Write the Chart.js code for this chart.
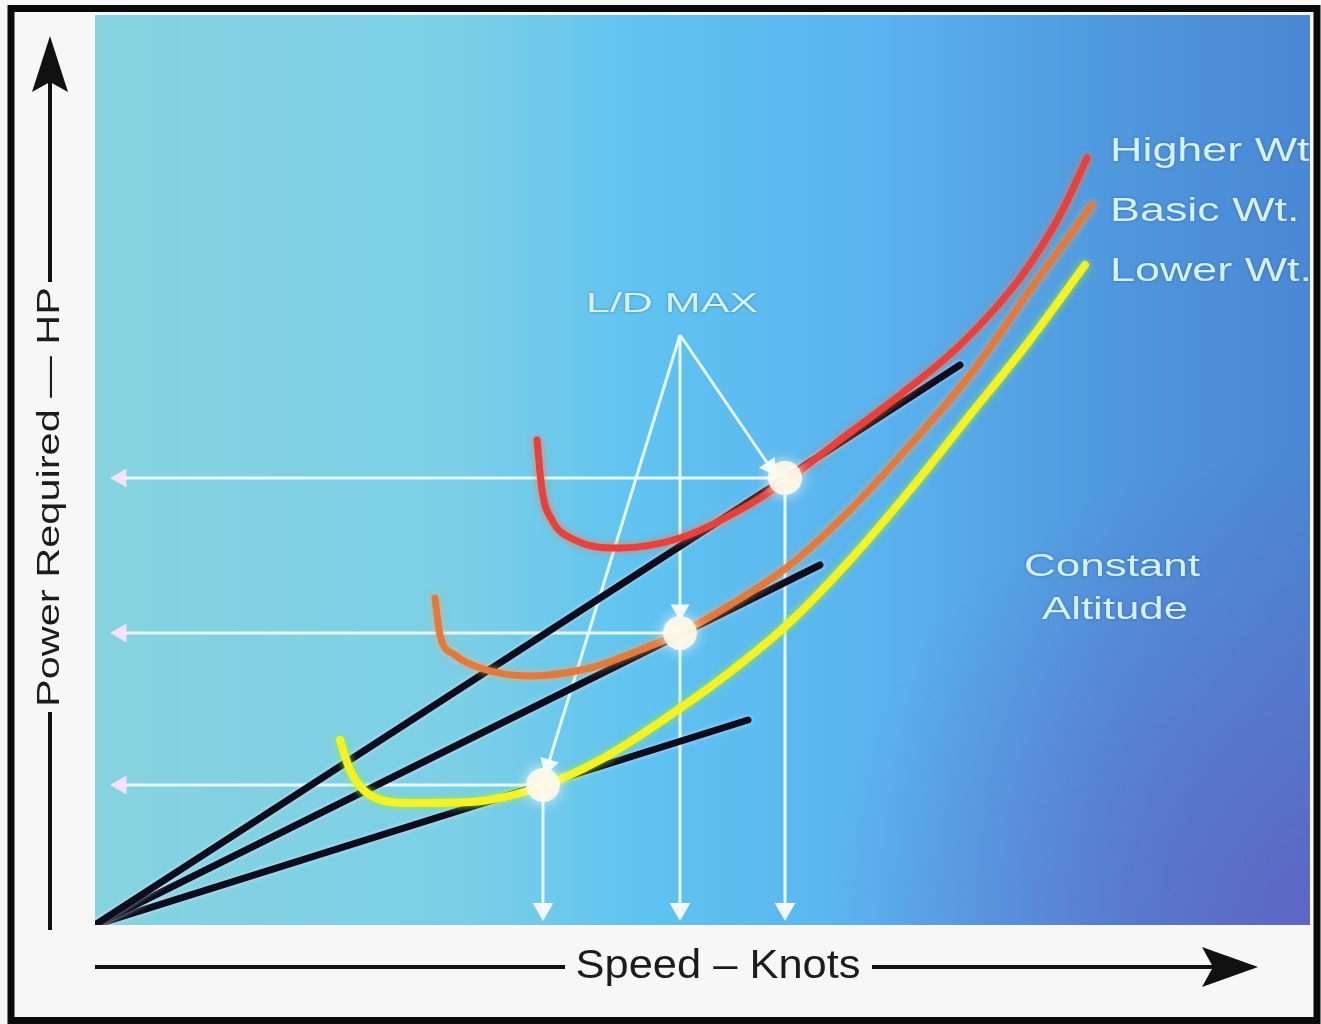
<!DOCTYPE html>
<html>
<head>
<meta charset="utf-8">
<script src="https://cdn.jsdelivr.net/npm/chart.js@4"></script>
<style>
  html, body { margin: 0; padding: 0; background: #f7f7f7; }
  canvas { display: block; }
</style>
</head>
<body>
<canvas id="powerChart" width="1321" height="1024"></canvas>
<script>
// power required curves, speed / power in chart units
const higherWtSpeed = [44.2, 44.7, 45.7, 48, 52.5, 58.5, 64.5, 69.5, 74.5, 80.5, 86.5, 92.5, 96.5, 99.2];
const higherWtPower = [48.5, 43.5, 40.5, 38.5, 37.7, 38.7, 41.5, 44.7, 48.5, 53, 58, 64.7, 71, 76.7];

const basicWtSpeed = [34, 34.5, 36, 38.5, 43.5, 49.5, 54.5, 58.5, 63.5, 69.5, 75.5, 81.5, 87.5, 93.5, 99.7];
const basicWtPower = [32.7, 29, 27, 25.7, 24.9, 25.7, 27.5, 29.2, 32, 36, 41.5, 48, 55, 63.5, 72];

const lowerWtSpeed = [24.5, 25.5, 27.5, 31.5, 37.5, 44.5, 50.5, 56.5, 63.5, 69.5, 75.5, 81.5, 87.5, 93.5, 99];
const lowerWtPower = [18.5, 15.5, 13, 12.2, 12.3, 13.8, 16.5, 20.3, 25.3, 30.3, 36.5, 43.5, 51, 58.5, 66];

// tangent lines from the origin (end points)
const tangentEndSpeed = [86.5, 72.5, 65.3];
const tangentEndPower = [56, 36, 20.5];

// L/D max points (higher, basic, lower)
const ldMaxSpeed = [69, 58.5, 44.8];
const ldMaxPower = [44.7, 29.2, 14.0];

// L/D MAX label pointer apex and pointer ends
const ldApex = { x: 58.5, y: 59 };
const pointerEndSpeed = [67.5, 58.5, 45.3];
const pointerEndPower = [45.8, 31.5, 16];

const curveLabels = ['Higher Wt.', 'Basic Wt.', 'Lower Wt.'];

const toPoints = (xs, ys) => xs.map((x, i) => ({ x, y: ys[i] }));

// rotation (deg) for a triangle pointing from a to b; x and y units have the same pixel size
const arrowAngle = (a, b) => Math.atan2(b.x - a.x, b.y - a.y) * 180 / Math.PI;

const WHITE = 'rgba(236,250,255,0.95)';
const datasets = [];

// L/D max glow points
datasets.push({
  data: toPoints(ldMaxSpeed, ldMaxPower),
  showLine: false,
  pointRadius: 17,
  pointBackgroundColor: 'rgba(255,250,232,0.88)',
  pointBorderWidth: 0,
  glow: 'rgba(255,255,255,0.9)', glowBlur: 14,
  order: 0
});

// coloured power curves
[
  [higherWtSpeed, higherWtPower, '#e8403c', 'rgba(255,120,60,0.8)', 7],
  [basicWtSpeed, basicWtPower, '#e27a3e', 'rgba(255,170,90,0.7)', 7],
  [lowerWtSpeed, lowerWtPower, '#f4f224', 'rgba(150,240,60,0.95)', 8]
].forEach(([xs, ys, color, glow, width]) => {
  datasets.push({
    data: toPoints(xs, ys),
    borderColor: color,
    borderWidth: width,
    cubicInterpolationMode: 'monotone',
    pointRadius: 0,
    borderCapStyle: 'round',
    glow, glowBlur: 7,
    order: 1
  });
});

// black tangent lines
tangentEndSpeed.forEach((x, i) => {
  datasets.push({
    data: [{ x: 0, y: 0 }, { x, y: tangentEndPower[i] }],
    borderColor: '#0d0d1e',
    borderWidth: 7,
    borderCapStyle: 'round',
    pointRadius: 0,
    glow: 'rgba(230,240,255,0.7)', glowBlur: 4,
    order: 2
  });
});

// white horizontal arrows to the power axis
ldMaxSpeed.forEach((x, i) => {
  const y = ldMaxPower[i];
  datasets.push({
    data: [{ x: 2.6, y }, { x, y }],
    borderColor: WHITE,
    borderWidth: 3,
    pointStyle: 'triangle',
    pointRadius: [11, 0],
    pointRotation: [-90, 0],
    pointBackgroundColor: 'rgba(250,225,255,0.95)',
    pointBorderWidth: 0,
    order: 3
  });
});

// white vertical arrows to the speed axis
ldMaxSpeed.forEach((x, i) => {
  datasets.push({
    data: [{ x, y: 1.6 }, { x, y: ldMaxPower[i] }],
    borderColor: WHITE,
    borderWidth: 3,
    pointStyle: 'triangle',
    pointRadius: [12, 0],
    pointRotation: [180, 0],
    pointBackgroundColor: 'rgba(250,250,255,0.95)',
    pointBorderWidth: 0,
    order: 3
  });
});

// pointers from the L/D MAX label
pointerEndSpeed.forEach((x, i) => {
  const end = { x, y: pointerEndPower[i] };
  datasets.push({
    data: [ldApex, end],
    borderColor: WHITE,
    borderWidth: 3,
    pointStyle: 'triangle',
    pointRadius: [0, 11],
    pointRotation: [0, arrowAngle(ldApex, end)],
    pointBackgroundColor: 'rgba(245,252,255,0.95)',
    pointBorderWidth: 0,
    order: 3
  });
});

const glowPlugin = {
  id: 'glow',
  beforeDatasetDraw(chart, args) {
    const ds = chart.data.datasets[args.index];
    chart.ctx.save();
    if (ds.glow) {
      chart.ctx.shadowColor = ds.glow;
      chart.ctx.shadowBlur = ds.glowBlur;
    }
  },
  afterDatasetDraw(chart) {
    chart.ctx.restore();
  }
};

const backgroundPlugin = {
  id: 'background',
  beforeDraw(chart) {
    const { ctx, chartArea: a } = chart;
    ctx.save();
    ctx.fillStyle = '#f7f7f7';
    ctx.fillRect(0, 0, chart.width, chart.height);

    const g = ctx.createLinearGradient(a.left, 0, a.right, 0);
    g.addColorStop(0, '#86d3e0');
    g.addColorStop(0.3, '#7ccfe6');
    g.addColorStop(0.45, '#60c3f0');
    g.addColorStop(0.65, '#5ab2ee');
    g.addColorStop(0.85, '#4f96dc');
    g.addColorStop(1, '#4a88d4');
    ctx.fillStyle = g;
    ctx.fillRect(a.left, a.top, a.right - a.left, a.bottom - a.top);

    const r = ctx.createRadialGradient(a.right, a.bottom, 0, a.right, a.bottom, 480);
    r.addColorStop(0, 'rgba(100,90,190,0.75)');
    r.addColorStop(1, 'rgba(100,90,190,0)');
    ctx.fillStyle = r;
    ctx.fillRect(a.left, a.top, a.right - a.left, a.bottom - a.top);

    // outer frame
    ctx.strokeStyle = '#0a0a0a';
    ctx.lineWidth = 7;
    ctx.strokeRect(11, 8.5, 1306, 1012);
    ctx.restore();
  }
};

function drawFitText(ctx, text, cx, cy, width, font, color, rotate) {
  ctx.save();
  ctx.font = font;
  ctx.fillStyle = color;
  ctx.textAlign = 'center';
  ctx.textBaseline = 'middle';
  ctx.translate(cx, cy);
  if (rotate) ctx.rotate(rotate);
  ctx.scale(width / ctx.measureText(text).width, 1);
  ctx.fillText(text, 0, 0);
  ctx.restore();
}

const annotationPlugin = {
  id: 'annotations',
  afterDatasetsDraw(chart) {
    const { ctx, chartArea: a, scales: { x, y } } = chart;
    const font = s => `${s}px "Liberation Sans", Arial, sans-serif`;
    const light = '#d6f2ff';

    ctx.save();
    ctx.beginPath();
    ctx.rect(a.left, a.top, a.right - a.left, a.bottom - a.top);
    ctx.clip();
    ctx.shadowColor = 'rgba(40,80,140,0.6)';
    ctx.shadowBlur = 3;

    // curve labels at the right end of the curves
    curveLabels.forEach((label, i) => {
      ctx.save();
      ctx.font = font(34);
      ctx.fillStyle = light;
      ctx.textBaseline = 'middle';
      ctx.translate(x.getPixelForValue(101.5), [152, 212, 272][i]);
      ctx.scale(1.32, 1);
      ctx.fillText(label, 0, 0);
      ctx.restore();
    });

    drawFitText(ctx, 'L/D MAX', x.getPixelForValue(ldApex.x) - 8, y.getPixelForValue(ldApex.y) - 30, 172, font(27), light);
    drawFitText(ctx, 'Constant', 1112, 567, 176, font(32), light);
    drawFitText(ctx, 'Altitude', 1115, 610, 146, font(32), light);
    ctx.restore();

    // axis arrows outside the plot
    ctx.save();
    ctx.strokeStyle = '#111';
    ctx.fillStyle = '#111';
    ctx.lineWidth = 4;
    ctx.beginPath();
    ctx.moveTo(50, a.bottom + 5); ctx.lineTo(50, 712);
    ctx.moveTo(50, 282); ctx.lineTo(50, 80);
    ctx.moveTo(a.left, 967); ctx.lineTo(565, 967);
    ctx.moveTo(872, 967); ctx.lineTo(1215, 967);
    ctx.stroke();

    ctx.beginPath();
    ctx.moveTo(50, 36); ctx.lineTo(68, 92); ctx.lineTo(50, 82); ctx.lineTo(32, 92);
    ctx.closePath();
    ctx.fill();
    ctx.beginPath();
    ctx.moveTo(1258, 967); ctx.lineTo(1202, 987); ctx.lineTo(1213, 967); ctx.lineTo(1202, 947);
    ctx.closePath();
    ctx.fill();

    drawFitText(ctx, 'Power Required — HP', 50, 497, 420, font(32), '#1c1c1c', -Math.PI / 2);
    drawFitText(ctx, 'Speed – Knots', 718, 967, 285, font(40), '#1c1c1c');
    ctx.restore();
  }
};

new Chart(document.getElementById('powerChart'), {
  type: 'line',
  data: { datasets },
  options: {
    responsive: false,
    animation: false,
    layout: { autoPadding: false, padding: { left: 95, top: 15, right: 11, bottom: 99 } },
    plugins: { legend: { display: false }, tooltip: { enabled: false } },
    elements: { point: { radius: 0, hoverRadius: 0 }, line: { tension: 0 } },
    scales: {
      x: { type: 'linear', min: 0, max: 121.5, display: false },
      y: { type: 'linear', min: 0, max: 91, display: false }
    }
  },
  plugins: [backgroundPlugin, glowPlugin, annotationPlugin]
});
</script>
</body>
</html>
